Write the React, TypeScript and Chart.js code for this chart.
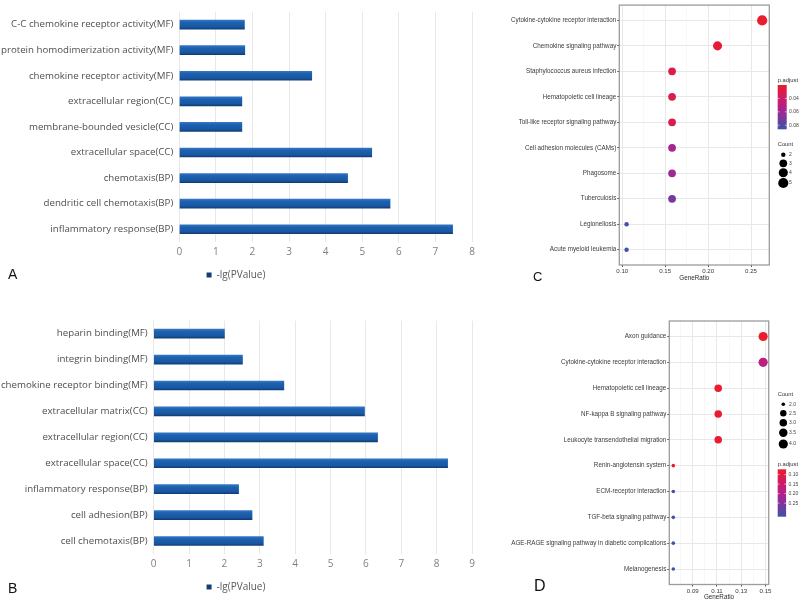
import React, { useEffect, useRef } from 'react';
import { Chart, registerables } from 'chart.js';

Chart.register(...registerables);

// ---------- Panel A / B data ----------
const SERIES_LABEL = '-lg(PValue)';
const categoriesA = [
  'C-C chemokine receptor activity(MF)',
  'protein homodimerization activity(MF)',
  'chemokine receptor activity(MF)',
  'extracellular region(CC)',
  'membrane-bounded vesicle(CC)',
  'extracellular space(CC)',
  'chemotaxis(BP)',
  'dendritic cell chemotaxis(BP)',
  'inflammatory response(BP)',
];
const valuesA = [1.78, 1.79, 3.62, 1.71, 1.71, 5.26, 4.6, 5.76, 7.47];
const xMaxA = 8;

const categoriesB = [
  'heparin binding(MF)',
  'integrin binding(MF)',
  'chemokine receptor binding(MF)',
  'extracellular matrix(CC)',
  'extracellular region(CC)',
  'extracellular space(CC)',
  'inflammatory response(BP)',
  'cell adhesion(BP)',
  'cell chemotaxis(BP)',
];
const valuesB = [2.0, 2.51, 3.68, 5.96, 6.33, 8.31, 2.4, 2.78, 3.1];
const xMaxB = 9;

// ---------- Panel C data ----------
const pathwaysC = [
  'Cytokine-cytokine receptor interaction',
  'Chemokine signaling pathway',
  'Staphylococcus aureus infection',
  'Hematopoietic cell lineage',
  'Toll-like receptor signaling pathway',
  'Cell adhesion molecules (CAMs)',
  'Phagosome',
  'Tuberculosis',
  'Legionellosis',
  'Acute myeloid leukemia',
];
const geneRatioC = [0.263, 0.211, 0.158, 0.158, 0.158, 0.158, 0.158, 0.158, 0.105, 0.105];
const countC = [5, 4, 3, 3, 3, 3, 3, 3, 2, 2];
const pAdjustC = [0.021, 0.024, 0.029, 0.03, 0.031, 0.058, 0.06, 0.071, 0.085, 0.086];
const xMajorC = [0.1, 0.15, 0.2, 0.25];
const xMinorC = [0.125, 0.175, 0.225];
const pAdjustTicksC = [0.04, 0.06, 0.08];
const countTicksC = [2, 3, 4, 5];

// ---------- Panel D data ----------
const pathwaysD = [
  'Axon guidance',
  'Cytokine-cytokine receptor interaction',
  'Hematopoietic cell lineage',
  'NF-kappa B signaling pathway',
  'Leukocyte transendothelial migration',
  'Renin-angiotensin system',
  'ECM-receptor interaction',
  'TGF-beta signaling pathway',
  'AGE-RAGE signaling pathway in diabetic complications',
  'Melanogenesis',
];
const geneRatioD = [0.148, 0.148, 0.111, 0.111, 0.111, 0.074, 0.074, 0.074, 0.074, 0.074];
const countD = [4, 4, 3, 3, 3, 2, 2, 2, 2, 2];
const pAdjustD = [0.073, 0.18, 0.075, 0.076, 0.078, 0.085, 0.315, 0.318, 0.32, 0.32];
const xMajorD = [0.09, 0.11, 0.13, 0.15];
const xMinorD = [0.08, 0.1, 0.12, 0.14];
const pAdjustTicksD = [0.1, 0.15, 0.2, 0.25];
const countTicksD = [2.0, 2.5, 3.0, 3.5, 4.0];

// ---------- helpers ----------
const BAR_FONT = '"Open Sans", "Noto Sans", sans-serif';
const GG_FONT = '"Liberation Sans", Arial, sans-serif';

const RAMP = [
  [236, 28, 44],
  [182, 30, 140],
  [62, 82, 168],
];
function rampColor(t: number) {
  const tt = Math.max(0, Math.min(1, t)) * 2;
  const i = tt < 1 ? 0 : 1;
  const f = tt - i;
  const a = RAMP[i];
  const b = RAMP[i + 1];
  const c = a.map((v, k) => Math.round(v + (b[k] - v) * f));
  return `rgb(${c[0]},${c[1]},${c[2]})`;
}

function barFill(ctx: any) {
  const chart = ctx.chart;
  const ys = chart.scales && chart.scales.y;
  if (ctx.type !== 'data' || !ys) return '#1f60ad';
  const yc = ys.getPixelForValue(ctx.dataIndex);
  if (!Number.isFinite(yc)) return '#1f60ad';
  const g = chart.ctx.createLinearGradient(0, yc - 4.5, 0, yc + 4.5);
  g.addColorStop(0, '#3276c4');
  g.addColorStop(0.25, '#1d61b0');
  g.addColorStop(0.75, '#1958a2');
  g.addColorStop(1, '#113d78');
  return g;
}

function barConfig(cats: string[], vals: number[], xMax: number, yWidth: number, padTop: number): any {
  return {
    type: 'bar',
    data: {
      labels: cats,
      datasets: [
        {
          label: SERIES_LABEL,
          data: vals,
          backgroundColor: barFill,
          borderWidth: 0,
          barThickness: 9,
        },
      ],
    },
    options: {
      indexAxis: 'y',
      responsive: false,
      animation: false,
      layout: { padding: { top: padTop, right: 8, bottom: 0, left: 0 } },
      plugins: {
        legend: {
          position: 'bottom',
          labels: {
            boxWidth: 5,
            boxHeight: 5,
            padding: 8,
            color: '#595959',
            font: { family: BAR_FONT, size: 10 },
          },
        },
        tooltip: { enabled: false },
      },
      scales: {
        x: {
          min: 0,
          max: xMax,
          ticks: { stepSize: 1, color: '#808080', padding: 4, font: { family: BAR_FONT, size: 10 } },
          grid: { color: '#e8e8e8', drawTicks: false },
          border: { display: false },
          afterFit: (s: any) => {
            s.height = 20;
          },
        },
        y: {
          grid: { display: false, drawTicks: false },
          border: { display: false },
          ticks: { color: '#4f4f4f', padding: 6, autoSkip: false, font: { family: BAR_FONT, size: 9.7 } },
          afterFit: (s: any) => {
            s.width = yWidth;
          },
        },
      },
    },
  };
}

interface DotSpec {
  pathways: string[];
  ratios: number[];
  counts: number[];
  padj: number[];
  xRange: [number, number];
  xMajor: number[];
  xMinor: number[];
  pDomain: [number, number];
  pTicks: number[];
  countDomain: [number, number];
  rRange: [number, number];
  countTicks: number[];
  countDigits: number;
  yWidth: number;
  xHeight: number;
  padTop: number;
  padRight: number;
  titlePadBottom: number;
  legendGap: number;
  colorbar: { titleY: number; top: number; bottom: number; width: number };
  size: { titleY: number; ys: number[] };
}

function makeRadius(spec: DotSpec) {
  return (c: number) => {
    const [c0, c1] = spec.countDomain;
    const [r0, r1] = spec.rRange;
    return r0 + (r1 - r0) * Math.sqrt((c - c0) / (c1 - c0));
  };
}
function makeColor(spec: DotSpec) {
  return (p: number) => rampColor((p - spec.pDomain[0]) / (spec.pDomain[1] - spec.pDomain[0]));
}

function ggPlugin(spec: DotSpec) {
  const radius = makeRadius(spec);
  return {
    id: 'ggLegend',
    afterDraw(chart: any) {
      const { ctx, chartArea: a } = chart;
      if (!a) return;
      ctx.save();
      ctx.strokeStyle = '#9c9c9c';
      ctx.lineWidth = 1.3;
      ctx.strokeRect(a.left, a.top, a.right - a.left, a.bottom - a.top);

      const x0 = a.right + spec.legendGap;
      ctx.textBaseline = 'middle';
      ctx.textAlign = 'left';

      // colour bar
      const cb = spec.colorbar;
      ctx.fillStyle = '#333';
      ctx.font = `5.8px ${GG_FONT}`;
      ctx.fillText('p.adjust', x0, cb.titleY);
      const g = ctx.createLinearGradient(0, cb.top, 0, cb.bottom);
      for (let i = 0; i <= 20; i++) g.addColorStop(i / 20, rampColor(i / 20));
      ctx.fillStyle = g;
      ctx.fillRect(x0, cb.top, cb.width, cb.bottom - cb.top);
      ctx.font = `5px ${GG_FONT}`;
      spec.pTicks.forEach((v) => {
        const y = cb.top + ((v - spec.pDomain[0]) / (spec.pDomain[1] - spec.pDomain[0])) * (cb.bottom - cb.top);
        ctx.strokeStyle = '#ffffff';
        ctx.lineWidth = 0.6;
        ctx.beginPath();
        ctx.moveTo(x0, y);
        ctx.lineTo(x0 + 1.8, y);
        ctx.moveTo(x0 + cb.width - 1.8, y);
        ctx.lineTo(x0 + cb.width, y);
        ctx.stroke();
        ctx.fillStyle = '#444';
        ctx.fillText(v.toFixed(2), x0 + cb.width + 2.4, y);
      });

      // size legend
      const sz = spec.size;
      ctx.font = `5.8px ${GG_FONT}`;
      ctx.fillStyle = '#333';
      ctx.fillText('Count', x0, sz.titleY);
      ctx.font = `5px ${GG_FONT}`;
      spec.countTicks.forEach((v, i) => {
        const y = sz.ys[i];
        ctx.fillStyle = '#000';
        ctx.beginPath();
        ctx.arc(x0 + 5.6, y, radius(v), 0, Math.PI * 2);
        ctx.fill();
        ctx.fillStyle = '#444';
        ctx.fillText(v.toFixed(spec.countDigits), x0 + 11.4, y);
      });
      ctx.restore();
    },
  };
}

function dotConfig(spec: DotSpec): any {
  const radius = makeRadius(spec);
  const color = makeColor(spec);
  const allX = [...spec.xMajor, ...spec.xMinor].sort((p, q) => p - q);
  const isMajor = (v: number) => spec.xMajor.some((m) => Math.abs(m - v) < 1e-9);
  return {
    type: 'scatter',
    data: {
      datasets: [
        {
          data: spec.ratios.map((r, i) => ({ x: r, y: i })),
          pointRadius: spec.counts.map(radius),
          pointHoverRadius: spec.counts.map(radius),
          pointBackgroundColor: spec.padj.map(color),
          pointBorderWidth: 0,
          clip: false,
        },
      ],
    },
    options: {
      responsive: false,
      animation: false,
      layout: { padding: { top: spec.padTop, right: spec.padRight, bottom: 0, left: 0 } },
      plugins: { legend: { display: false }, tooltip: { enabled: false } },
      scales: {
        x: {
          type: 'linear',
          min: spec.xRange[0],
          max: spec.xRange[1],
          afterBuildTicks: (axis: any) => {
            axis.ticks = allX.map((v) => ({ value: v }));
          },
          ticks: {
            autoSkip: false,
            maxRotation: 0,
            padding: 1,
            color: '#3a3a3a',
            font: { family: GG_FONT, size: 6.1 },
            callback: (v: any) => (isMajor(Number(v)) ? Number(v).toFixed(2) : ''),
          },
          grid: {
            color: (c: any) => (c.tick && isMajor(c.tick.value) ? '#e8e8e8' : '#f4f4f4'),
            lineWidth: (c: any) => (c.tick && isMajor(c.tick.value) ? 1 : 0.6),
            tickLength: 2,
            tickColor: (c: any) => (c.tick && isMajor(c.tick.value) ? '#4d4d4d' : 'rgba(0,0,0,0)'),
          },
          border: { display: false },
          title: {
            display: true,
            text: 'GeneRatio',
            color: '#2a2a2a',
            font: { family: GG_FONT, size: 6.3 },
            padding: { top: 0, bottom: spec.titlePadBottom },
          },
          afterFit: (s: any) => {
            s.height = spec.xHeight;
          },
        },
        y: {
          type: 'linear',
          reverse: true,
          min: -0.6,
          max: spec.pathways.length - 0.4,
          afterBuildTicks: (axis: any) => {
            axis.ticks = spec.pathways.map((_, i) => ({ value: i }));
          },
          ticks: {
            autoSkip: false,
            padding: 1,
            color: '#3a3a3a',
            font: { family: GG_FONT, size: 6.3 },
            callback: (v: any) => spec.pathways[Math.round(Number(v))] ?? '',
          },
          grid: { color: '#e8e8e8', tickLength: 2, tickColor: '#4d4d4d' },
          border: { display: false },
          afterFit: (s: any) => {
            s.width = spec.yWidth;
          },
        },
      },
    },
    plugins: [ggPlugin(spec)],
  };
}

const specC: DotSpec = {
  pathways: pathwaysC,
  ratios: geneRatioC,
  counts: countC,
  padj: pAdjustC,
  xRange: [0.0965, 0.2713],
  xMajor: xMajorC,
  xMinor: xMinorC,
  pDomain: [0.02, 0.086],
  pTicks: pAdjustTicksC,
  countDomain: [2, 5],
  rRange: [2.2, 5.1],
  countTicks: countTicksC,
  countDigits: 0,
  yWidth: 139.3,
  xHeight: 25,
  padTop: 1,
  padRight: 30.7,
  titlePadBottom: 8,
  legendGap: 8.4,
  colorbar: { titleY: 80, top: 85, bottom: 129.3, width: 9 },
  size: { titleY: 144.7, ys: [154.7, 163.3, 172.7, 183] },
};

const specD: DotSpec = {
  pathways: pathwaysD,
  ratios: geneRatioD,
  counts: countD,
  padj: pAdjustD,
  xRange: [0.0707, 0.1526],
  xMajor: xMajorD,
  xMinor: xMinorD,
  pDomain: [0.072, 0.321],
  pTicks: pAdjustTicksD,
  countDomain: [2, 4],
  rRange: [1.8, 4.6],
  countTicks: countTicksD,
  countDigits: 1,
  yWidth: 189.3,
  xHeight: 17.5,
  padTop: 21,
  padRight: 31.3,
  titlePadBottom: 1,
  legendGap: 9,
  colorbar: { titleY: 164.3, top: 169.3, bottom: 216.7, width: 8.4 },
  size: { titleY: 94.7, ys: [104.3, 113.3, 122.7, 132.7, 144] },
};

const letterStyle = (left: number, top: number, size: number): React.CSSProperties => ({
  position: 'absolute',
  left,
  top,
  fontFamily: GG_FONT,
  fontSize: size,
  lineHeight: 1,
  color: '#111',
});

export default function App() {
  const refA = useRef<HTMLCanvasElement>(null);
  const refB = useRef<HTMLCanvasElement>(null);
  const refC = useRef<HTMLCanvasElement>(null);
  const refD = useRef<HTMLCanvasElement>(null);

  useEffect(() => {
    const charts = [
      new Chart(refA.current!, barConfig(categoriesA, valuesA, xMaxA, 179.3, 8)),
      new Chart(refB.current!, barConfig(categoriesB, valuesB, xMaxB, 153.7, 30.7)),
      new Chart(refC.current!, dotConfig(specC)),
      new Chart(refD.current!, dotConfig(specD)),
    ];
    return () => charts.forEach((c) => c.destroy());
  }, []);

  return (
    <div style={{ position: 'absolute', left: 0, top: 0, width: 800, height: 602, background: '#fff', overflow: 'hidden' }}>
      <canvas ref={refA} width={480} height={290} style={{ position: 'absolute', left: 0, top: 0 }} />
      <canvas ref={refB} width={480} height={312} style={{ position: 'absolute', left: 0, top: 290 }} />
      <canvas ref={refC} width={320} height={290} style={{ position: 'absolute', left: 480, top: 0 }} />
      <canvas ref={refD} width={320} height={302} style={{ position: 'absolute', left: 480, top: 300 }} />
      <div style={letterStyle(8, 267, 14)}>A</div>
      <div style={letterStyle(8, 581, 14)}>B</div>
      <div style={letterStyle(533, 269.5, 13)}>C</div>
      <div style={letterStyle(534, 578, 16)}>D</div>
    </div>
  );
}
